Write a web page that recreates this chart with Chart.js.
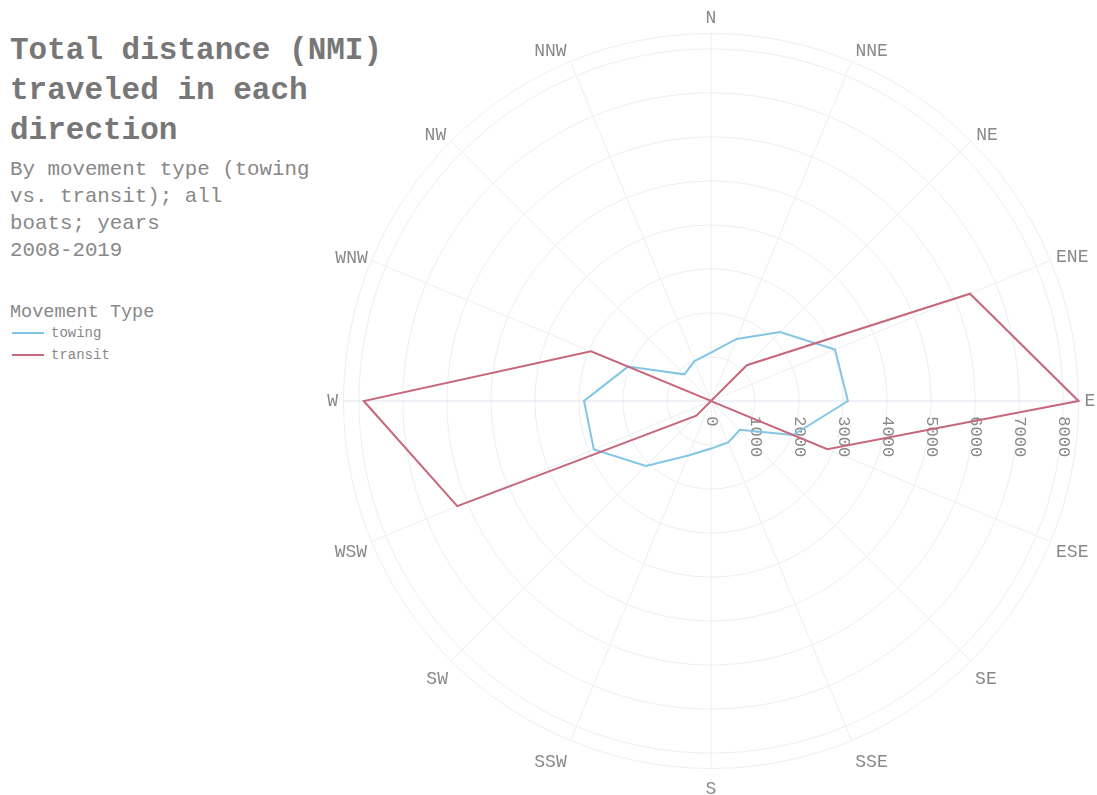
<!DOCTYPE html>
<html lang="en">
  <head>
    <meta charset="UTF-8" />
    <meta name="viewport" content="width=device-width, initial-scale=1.0" />
    <title>Total distance (NMI) traveled in each direction</title>
    <script src="https://cdn.jsdelivr.net/npm/chart.js"></script>
    <style>
      body {
        margin: 0;
        width: 1097px;
        height: 795px;
        overflow: hidden;
        background: #fff;
        position: relative;
        font-family: 'Liberation Mono', monospace;
      }
      #title {
        position: absolute;
        left: 10px;
        top: 31px;
        margin: 0;
        font-size: 31px;
        line-height: 40px;
        font-weight: bold;
        color: #777;
      }
      #subtitle {
        position: absolute;
        left: 10px;
        top: 156px;
        margin: 0;
        font-size: 20.8px;
        line-height: 27px;
        color: #888;
      }
      #legend {
        position: absolute;
        left: 10px;
        top: 304px;
        color: #888;
      }
      #legend .head {
        font-size: 18.5px;
        height: 18px;
        line-height: 17px;
      }
      #legend .item {
        display: flex;
        align-items: center;
        height: 22px;
        font-size: 14px;
      }
      #legend svg {
        margin-left: 2px;
        margin-right: 7px;
      }
      #chartBox {
        position: absolute;
        left: 312px;
        top: 10px;
        width: 799px;
        height: 799px;
      }
    </style>
  </head>
  <body>
    <h1 id="title">Total distance (NMI)<br>traveled in each<br>direction</h1>
    <p id="subtitle">By movement type (towing<br>vs. transit); all<br>boats; years<br>2008-2019</p>
    <div id="legend"><div class="head">Movement Type</div></div>
    <div id="chartBox"><canvas id="myChart"></canvas></div>

    <script>
      // directions run clockwise starting at E (so the radial ticks sit on the E spoke)
      const directions = ['E', 'ESE', 'SE', 'SSE', 'S', 'SSW', 'SW', 'WSW', 'W', 'WNW', 'NW', 'NNW', 'N', 'NNE', 'NE', 'ENE'];
      const towing = [3110, 2020, 925, 1020, 1080, 1340, 2090, 2880, 2885, 2040, 855, 980, 1100, 1525, 2215, 3050];
      const transit = [8350, 2860, 0, 0, 0, 0, 470, 6240, 7890, 2950, 0, 0, 0, 0, 1150, 6370];
      const seriesNames = ['towing', 'transit'];
      const seriesColors = ['#82c5e5', '#c7677b'];
      const radialTicks = [0, 1000, 2000, 3000, 4000, 5000, 6000, 7000, 8000];
      const radialMax = 8350;

      const series = [towing, transit];

      // compass label placement: [padding, box height] so labels sit like the original
      const labelPlace = {
        E: [-2.5, 18], ESE: [-2.5, 17.6], SE: [-2.5, 29], SSE: [1, 26.8], S: [1, 23],
        SSW: [1, 26.8], SW: [-4, 31], WSW: [-3.7, 18.4], W: [-3, 18],
        WNW: [-4.5, 1.8], NW: [-1.5, 1.8], NNW: [1.5, 1.8], N: [5.6, 1.8],
        NNE: [1.5, 1.8], NE: [-1, 1.8], ENE: [-2.5, 1.8]
      };

      // legend
      const legend = document.getElementById('legend');
      seriesNames.forEach((name, i) => {
        const row = document.createElement('div');
        row.className = 'item';
        row.innerHTML = '<svg width="32" height="22"><line x1="0" y1="11" x2="32" y2="11" stroke="' +
          seriesColors[i] + '" stroke-width="2"/></svg><span>' + name + '</span>';
        legend.appendChild(row);
      });

      const gridColor = '#eceef3';
      const axisColor = '#e1e4ee';

      const ctx = document.getElementById('myChart').getContext('2d');
      const myChart = new Chart(ctx, {
        type: 'radar',
        data: {
          labels: directions,
          datasets: seriesNames.map((name, i) => ({
            label: name,
            data: series[i],
            borderColor: seriesColors[i],
            backgroundColor: seriesColors[i],
            borderWidth: 2,
            pointRadius: 0,
            pointHoverRadius: 0,
            fill: false,
            tension: 0,
            order: seriesNames.length - i
          }))
        },
        options: {
          responsive: true,
          maintainAspectRatio: false,
          animation: false,
          plugins: {
            legend: { display: false },
            tooltip: { enabled: false }
          },
          scales: {
            r: {
              startAngle: 90,
              min: -1,
              max: radialMax,
              afterBuildTicks: scale => {
                scale.ticks = radialTicks.concat([radialMax]).map(v => ({ value: v }));
              },
              grid: { circular: true, color: gridColor, lineWidth: 1 },
              angleLines: {
                color: c => (c.index === 0 || c.index === 8) ? axisColor : gridColor,
                lineWidth: 1
              },
              pointLabels: {
                font: c => ({ family: 'Liberation Mono', size: 18, lineHeight: labelPlace[c.label][1] + 'px' }),
                color: '#888',
                padding: c => labelPlace[c.label][0]
              },
              ticks: {
                font: { family: 'Liberation Mono', size: 17 },
                color: '#888',
                showLabelBackdrop: false,
                backdropPadding: 0,
                // leading spaces push the rotated label below the E spoke
                callback: v => radialTicks.includes(v) ? ' '.repeat(String(v).length + 3) + v : ''
              }
            }
          }
        }
      });
    </script>
  </body>
</html>
